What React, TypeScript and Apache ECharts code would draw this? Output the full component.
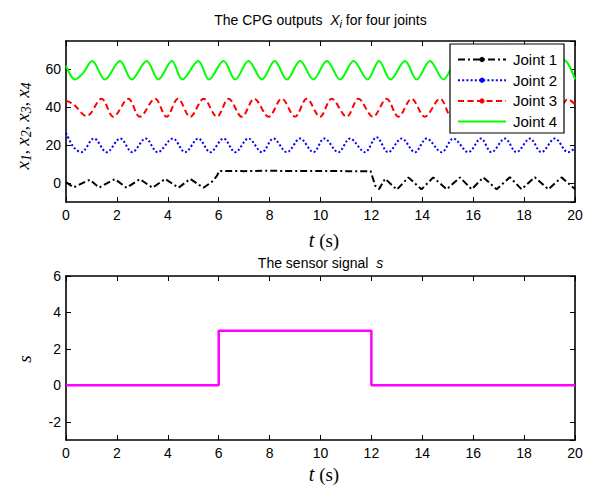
import React, { useEffect, useRef } from "react";
import * as echarts from "echarts";

// ---- data ----
const joint1T = [0, 0.3, 0.94, 1.3, 1.92, 2.38, 2.9, 3.4, 3.9, 4.42, 4.88, 5.4, 5.73, 5.93, 6.02, 7, 8, 9, 10, 11, 11.97, 12.15, 12.3, 12.54, 13.0, 13.45, 13.97, 14.43, 14.96, 15.48, 15.94, 16.4, 16.92, 17.44, 17.9, 18.42, 18.95, 19.47, 20];
const joint1V = [0.5, -2.3, 1.8, -2.4, 2.1, -2.5, 2.1, -2.5, 2.2, -2.5, 2.2, -2.5, 0.6, 3.8, 6.4, 6.3, 6.5, 6.3, 6.4, 6.3, 6.3, -1.4, -3.2, 2.3, -3.5, 3.0, -3.3, 3.0, -3.3, 3.0, -3.3, 3.0, -3.3, 3.1, -3.3, 3.1, -3.3, 3.0, -3.2];

const joint2T = [0, 0.3, 0.6, 1.1, 1.6, 2.13, 2.6, 3.13, 3.6, 4.2, 4.68, 5.2, 5.67, 6.19, 6.65, 7.17, 7.7, 8.15, 8.68, 9.2, 9.72, 10.15, 10.7, 11.16, 11.75, 12.2, 12.66, 13.19, 13.71, 14.17, 14.76, 15.22, 15.81, 16.3, 16.72, 17.25, 17.7, 18.23, 18.68, 19.21, 19.73, 20];
const joint2V = [26.5, 19, 16.3, 23.5, 16.3, 23.5, 16.3, 23.5, 16.3, 23.5, 16.3, 23.5, 16.3, 23.5, 16.3, 23.5, 16.3, 23.5, 16.3, 23.5, 16.3, 23.5, 16.3, 23.5, 16.3, 24.2, 16.3, 23.5, 16.3, 23.5, 16.3, 23.5, 16.3, 23.5, 16.3, 23.5, 16.3, 23.5, 16.3, 23.5, 16.3, 18.5];

const joint3T = [0, 0.3, 0.81, 1.4, 1.86, 2.45, 2.9, 3.5, 3.95, 4.4, 4.88, 5.41, 5.93, 6.39, 6.91, 7.4, 7.96, 8.48, 9.0, 9.46, 9.98, 10.44, 11.03, 11.49, 12.06, 12.6, 13.06, 13.58, 14.1, 14.7, 15.15, 15.7, 16.2, 16.7, 17.2, 17.7, 18.2, 18.75, 19.25, 19.72, 20];
const joint3V = [43.5, 41.5, 35.3, 44.5, 35, 44.5, 35, 44.5, 35, 44.5, 35, 44.5, 35, 44.5, 35, 44.5, 35, 44.5, 35, 44.5, 35, 44.5, 35, 44.5, 35, 44.5, 35, 44.5, 35, 44.5, 35, 44.5, 35, 44.5, 35, 44.5, 35, 44.5, 35, 44.3, 41.5];

const joint4T = [0, 0.35, 0.68, 1.03, 1.53, 2.12, 2.58, 3.17, 3.63, 4.16, 4.57, 5.2, 5.62, 6.19, 6.65, 7.17, 7.7, 8.2, 8.68, 9.2, 9.72, 10.25, 10.77, 11.3, 11.85, 12.3, 12.75, 13.32, 13.78, 14.3, 14.83, 15.35, 15.85, 16.38, 16.88, 17.42, 17.92, 18.47, 18.97, 19.57, 20];
const joint4V = [62, 54.7, 58.2, 64.5, 54.7, 64.5, 54.7, 64.5, 54.7, 64.5, 54.7, 64.5, 54.7, 64.5, 54.7, 64.5, 54.7, 64.5, 54.7, 64.5, 54.7, 64.5, 54.7, 64.5, 54.7, 64.5, 54.7, 64.5, 54.7, 64.5, 54.7, 64.5, 54.7, 64.5, 54.7, 64.5, 54.7, 64.5, 54.7, 64.8, 54.7];

const sensorT = [0, 6, 6, 12, 12, 20];
const sensorV = [0, 0, 3, 3, 0, 0];

const jointNames = ["Joint 1", "Joint 2", "Joint 3", "Joint 4"];
const jointColors = ["#000000", "#0000ff", "#ff0000", "#00ff00"];
const jointDashes: (number[] | null)[] = [[7, 3, 2, 3], [2, 2.2], [6, 3.5], null];
const jointMarkers = [true, true, true, false];

const topTitle = "The CPG outputs  ";
const topTitleTail = " for four joints";
const bottomTitle = "The sensor signal  ";

const SANS = "'Liberation Sans', Arial, Helvetica, sans-serif";
const SERIF = "'Liberation Serif', 'Times New Roman', serif";

function zip(t: number[], v: number[]) {
  return t.map((x, i) => [x, v[i]]);
}

export default function App() {
  const ref = useRef<HTMLDivElement>(null);

  useEffect(() => {
    if (!ref.current) return;
    const chart = echarts.init(ref.current, undefined, { renderer: "svg" });

    const axisLine = { show: true, onZero: false, lineStyle: { color: "#000", width: 1.6 } };
    const axisTick = { show: true, inside: true, length: 5, lineStyle: { color: "#000", width: 1 } };
    const label = { fontSize: 14, color: "#000", fontFamily: SANS };

    const xAx = (grid: number, pos: string, show: boolean) => ({
      gridIndex: grid,
      type: "value",
      min: 0,
      max: 20,
      interval: 2,
      position: pos,
      axisLine,
      axisTick,
      axisLabel: show ? { ...label, margin: 6 } : { show: false },
      splitLine: { show: false },
    });
    const yAx = (grid: number, pos: string, show: boolean, min: number, max: number, showMax: boolean) => ({
      gridIndex: grid,
      type: "value",
      min,
      max,
      splitNumber: 5,
      position: pos,
      axisLine,
      axisTick,
      axisLabel: show ? { ...label, margin: 5, showMinLabel: false, showMaxLabel: showMax } : { show: false },
      splitLine: { show: false },
    });

    const jointT = [joint1T, joint2T, joint3T, joint4T];
    const jointV = [joint1V, joint2V, joint3V, joint4V];

    const series: any[] = jointNames.map((name, i) => ({
      name,
      type: "line",
      xAxisIndex: 0,
      yAxisIndex: 0,
      data: zip(jointT[i], jointV[i]),
      showSymbol: false,
      symbol: "none",
      smooth: i === 0 ? false : 0.35,
      lineStyle: { color: jointColors[i], width: 2, type: jointDashes[i] ?? "solid" },
      z: 2 + i,
    }));
    series.push({
      name: "s",
      type: "line",
      xAxisIndex: 2,
      yAxisIndex: 2,
      data: zip(sensorT, sensorV),
      showSymbol: false,
      symbol: "none",
      lineStyle: { color: "#ff00ff", width: 2.5 },
    });

    const rowY = [59.5, 80.2, 100.9, 121.6];
    const LZ = 100;
    const legendChildren: any[] = [
      {
        type: "rect",
        z: LZ,
        shape: { x: 450, y: 44, width: 114, height: 89 },
        style: { fill: "#fff", stroke: "#000", lineWidth: 1.2 },
      },
    ];
    jointNames.forEach((name, i) => {
      legendChildren.push({
        type: "line",
        z: LZ + 1,
        shape: { x1: 458, y1: rowY[i], x2: 506, y2: rowY[i] },
        style: { stroke: jointColors[i], lineWidth: 2, lineDash: jointDashes[i] ?? undefined },
      });
      if (jointMarkers[i]) {
        legendChildren.push({
          type: "circle",
          z: LZ + 2,
          shape: { cx: 482, cy: rowY[i], r: 2.6 },
          style: { fill: jointColors[i] },
        });
      }
      legendChildren.push({
        type: "text",
        z: LZ + 2,
        x: 513,
        y: rowY[i],
        style: { text: name, fontSize: 15, fontFamily: SANS, fill: "#000", align: "left", verticalAlign: "middle" },
      });
    });

    const titleRich = {
      n: { fontSize: 14, fontFamily: SANS, lineHeight: 18, fill: "#000" },
      it: { fontSize: 14, fontFamily: SANS, fontStyle: "italic", lineHeight: 18, fill: "#000" },
      sub: { fontSize: 11, fontFamily: SANS, fontStyle: "italic", lineHeight: 10, verticalAlign: "bottom", fill: "#000" },
    };
    const serifRich = {
      it: { fontSize: 20, fontFamily: SERIF, fontStyle: "italic", lineHeight: 22, fill: "#000" },
      n: { fontSize: 19, fontFamily: SERIF, lineHeight: 22, fill: "#000" },
    };
    const ylabRich = {
      it: { fontSize: 19, fontFamily: SERIF, fontStyle: "italic", lineHeight: 22, fill: "#000" },
      n: { fontSize: 17, fontFamily: SERIF, lineHeight: 22, fill: "#000" },
      sub: { fontSize: 14, fontFamily: SERIF, fontStyle: "italic", lineHeight: 12, verticalAlign: "bottom", fill: "#000" },
    };

    const graphic: any[] = [
      {
        type: "text",
        x: 320.5,
        y: 20,
        style: { text: `{n|${topTitle}}{it|X}{sub|i}{n|${topTitleTail}}`, rich: titleRich, align: "center", verticalAlign: "middle" },
      },
      {
        type: "text",
        x: 320.5,
        y: 263,
        style: { text: `{n|${bottomTitle}}{it|s}`, rich: titleRich, align: "center", verticalAlign: "middle" },
      },
      {
        type: "text",
        x: 324,
        y: 240,
        style: { text: "{it|t}{n| (s)}", rich: serifRich, align: "center", verticalAlign: "middle" },
      },
      {
        type: "text",
        x: 324,
        y: 474,
        style: { text: "{it|t}{n| (s)}", rich: serifRich, align: "center", verticalAlign: "middle" },
      },
      {
        type: "text",
        x: 22,
        y: 126,
        rotation: Math.PI / 2,
        style: {
          text: "{it|x}{sub|1}{n|, }{it|x}{sub|2}{n|, }{it|x}{sub|3}{n|, }{it|x}{sub|4}",
          rich: ylabRich,
          align: "center",
          verticalAlign: "middle",
        },
      },
      {
        type: "text",
        x: 24,
        y: 359,
        rotation: Math.PI / 2,
        style: { text: "{it|s}", rich: ylabRich, align: "center", verticalAlign: "middle" },
      },
      ...legendChildren,
    ];

    chart.setOption({
      animation: false,
      backgroundColor: "#fff",
      grid: [
        { left: 66, top: 41, width: 509, height: 161 },
        { left: 66, top: 276, width: 509, height: 164 },
      ],
      xAxis: [xAx(0, "bottom", true), xAx(0, "top", false), xAx(1, "bottom", true), xAx(1, "top", false)],
      yAxis: [
        yAx(0, "left", true, -10, 75, false),
        yAx(0, "right", false, -10, 75, false),
        yAx(1, "left", true, -3, 6, true),
        yAx(1, "right", false, -3, 6, true),
      ],
      series,
      graphic,
    } as any);

    return () => chart.dispose();
  }, []);

  return <div ref={ref} style={{ position: "absolute", left: 0, top: 0, width: 589, height: 486 }} />;
}
